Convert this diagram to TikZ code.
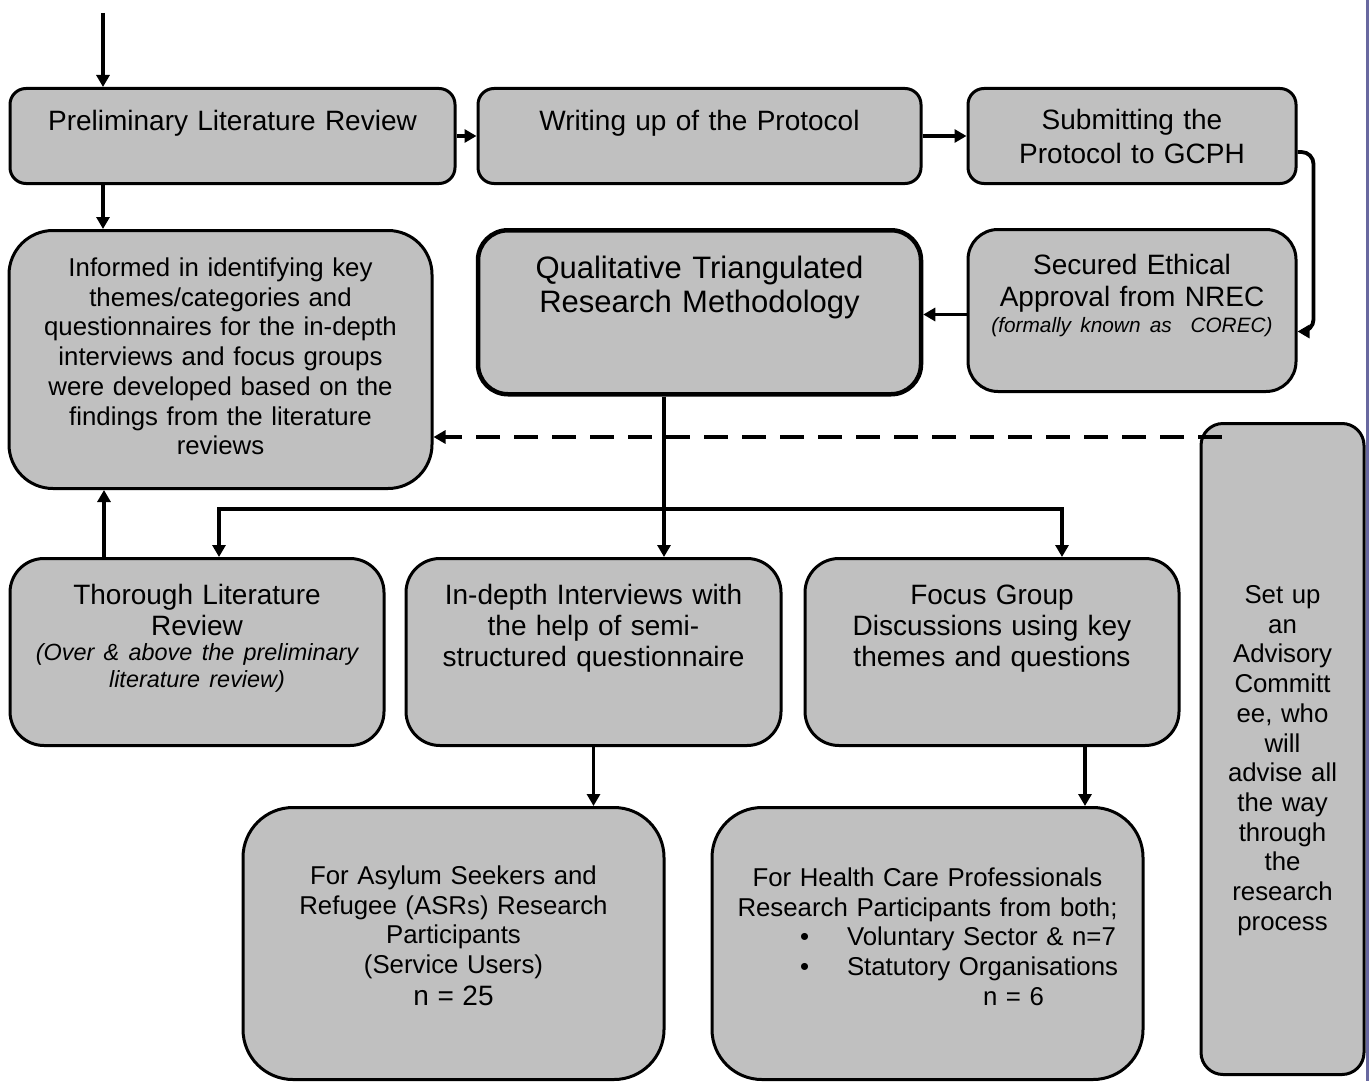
\documentclass[tikz,border=0pt]{standalone}
\usepackage{fontspec}
\setmainfont{Liberation Sans}
\usetikzlibrary{arrows.meta}
\definecolor{boxgray}{RGB}{192,192,192}
\definecolor{pageedge}{RGB}{104,104,160}
\tikzset{
  stage/.style={draw, fill=boxgray, line width=1.5pt, rounded corners=8pt, anchor=north,
    align=center, inner sep=0pt, font=\fontsize{14}{16.5}\selectfont},
  smalltext/.style={font=\fontsize{12.9}{14.85}\selectfont},
  flow/.style={line width=1.9pt, -{Triangle[length=6pt,width=6.5pt]}},
  dashflow/.style={flow, dash pattern=on 12pt off 7pt}
}

\begin{document}
\begin{tikzpicture}[x=0.5pt,y=-0.5pt]
  \useasboundingbox (0,0) rectangle (1369,1081);
  \fill[pageedge] (1366,0) rectangle (1369,1081);

  \node[stage, text width=222.5pt, text height=21pt, text depth=26.5pt] (prelim) at (232.5,87) {Preliminary Literature Review};
  \node[stage, text width=221.5pt, text height=21pt, text depth=26.5pt] (protocol) at (699.5,87) {Writing up of the Protocol};
  \node[stage, text width=164pt, text height=20.5pt, text depth=27pt, font=\fontsize{14}{17}\selectfont] (submit) at (1132,87) {Submitting the\\ Protocol to GCPH};

  \node[stage, smalltext, rounded corners=22pt, text width=211.5pt, text height=23pt, text depth=106pt] (informed) at (220.5,229)
    {Informed in identifying key\\ themes/categories and\\ questionnaires for the in-depth\\ interviews and focus groups\\ were developed based on the\\ findings from the literature\\ reviews};
  \node[stage, line width=2.25pt, rounded corners=15pt, text width=221.5pt, text height=24pt, text depth=58pt, font=\fontsize{15.5}{17}\selectfont] (qtrm) at (699.5,228)
    {Qualitative Triangulated\\ Research Methodology};
  \node[stage, rounded corners=15pt, text width=164pt, text height=22.5pt, text depth=58.5pt, font=\fontsize{14}{16}\selectfont] (ethics) at (1132,228)
    {Secured Ethical\\ Approval from NREC\\[-3pt] {\itshape\fontsize{10.4}{12}\selectfont (formally known as\ \ COREC)}};

  \node[stage, rounded corners=17pt, text width=187pt, text height=23pt, text depth=70.5pt, font=\fontsize{14}{15.5}\selectfont] (thorough) at (197,557)
    {Thorough Literature\\ Review\\[-1pt] {\itshape\fontsize{11.7}{13.5}\selectfont (Over \& above the preliminary\\[-2pt] literature review)}};
  \node[stage, rounded corners=17pt, text width=187.5pt, text height=23pt, text depth=70.5pt, font=\fontsize{14}{15.5}\selectfont] (interviews) at (593.5,557)
    {In-depth Interviews with\\ the help of semi-\\ structured questionnaire};
  \node[stage, rounded corners=17pt, text width=187pt, text height=23pt, text depth=70.5pt, font=\fontsize{14}{15.5}\selectfont] (focus) at (992,557)
    {Focus Group\\ Discussions using key\\ themes and questions};

  \node[stage, smalltext, rounded corners=25pt, text width=210.5pt, text height=38.5pt, text depth=97.5pt] (asr) at (453.5,806)
    {For Asylum Seekers and\\ Refugee (ASRs) Research\\ Participants\\ (Service Users)\\[1pt] {\fontsize{14}{16}\selectfont n = 25}};
  \node[stage, smalltext, rounded corners=25pt, text width=215.5pt, text height=39.5pt, text depth=96.5pt] (hcp) at (927.5,806)
    {For Health Care Professionals\\ Research Participants from both;\\
     \makebox[215.5pt][l]{\hspace{44pt}\textbullet\hspace{19pt}Voluntary Sector \& n=7}\\
     \makebox[215.5pt][l]{\hspace{44pt}\textbullet\hspace{19pt}Statutory Organisations}\\
     \makebox[215.5pt][l]{\hspace{135.5pt}n = 6}};

  \node[stage, smalltext, rounded corners=11pt, text width=81.5pt, text height=90pt, text depth=235.5pt] (advisory) at (1282.5,422)
    {Set up\\ an\\ Advisory\\ Committ\\ ee, who\\ will\\ advise all\\ the way\\ through\\ the\\ research\\ process};

  \coordinate (entry) at (103,13);
  \coordinate (p1) at ([xshift=-64.75pt]prelim.south);
  \coordinate (t1) at ([xshift=-46.5pt]thorough.north);
  \coordinate (f1) at ([xshift=46.5pt]focus.south);
  \coordinate (fork) at (664,509);
  \coordinate (advtap) at ([xshift=11pt,yshift=-7.5pt]advisory.north west);

  \draw[flow] (entry) -- (entry |- prelim.north);
  \draw[flow] (prelim.east) -- (protocol.west);
  \draw[flow] (protocol.east) -- (submit.west);
  \draw[flow, rounded corners=6pt] ([yshift=-8pt]submit.east) -- ++(8pt,0) |- ([yshift=-10.5pt]ethics.east);
  \draw[flow] ([yshift=-2pt]ethics.west) -- ([yshift=-2pt]ethics.west -| qtrm.east);
  \draw[flow] (p1) -- (p1 |- informed.north);
  \draw[flow] (t1) -- (t1 |- informed.south);
  \draw[flow] (qtrm.south -| fork) -- (interviews.north -| fork);
  \draw[flow] (fork) -| ([xshift=11pt]thorough.north);
  \draw[flow] (fork) -| ([xshift=35pt]focus.north);
  \draw[flow] (interviews.south) -- (interviews.south |- asr.north);
  \draw[flow] (f1) -- (f1 |- hcp.north);
  \draw[dashflow] (advtap) -- (advtap -| informed.east);
\end{tikzpicture}
\end{document}
